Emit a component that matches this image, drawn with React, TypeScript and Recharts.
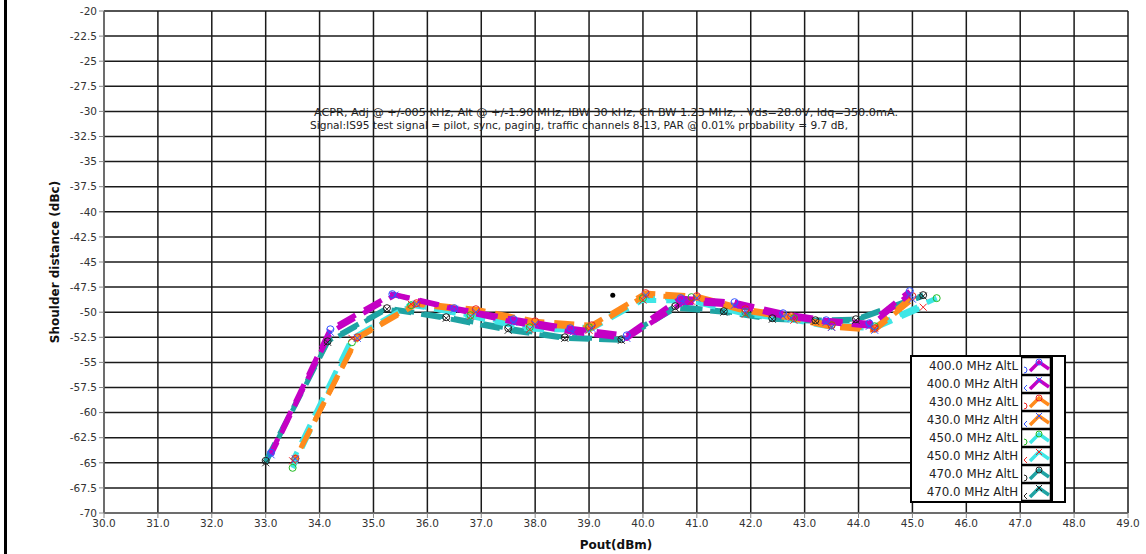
import React from 'react';
import { LineChart, Line, XAxis, YAxis, CartesianGrid, Scatter } from 'recharts';

// Pout (dBm) per series and shoulder distance (dBc)
const x400L = [33.1, 34.2, 35.35, 36.5, 37.6, 38.65, 39.7, 40.7, 41.7, 42.6, 43.4, 44.2, 44.95];
const y400L = [-64.0, -51.7, -48.2, -49.6, -50.7, -51.6, -52.3, -48.6, -49.0, -50.1, -50.8, -51.1, -47.9];
const x400H = [33.1, 34.2, 35.4, 36.5, 37.6, 38.7, 39.7, 40.75, 41.7, 42.6, 43.4, 44.2, 44.95];
const y400H = [-64.2, -52.0, -48.3, -49.7, -51.0, -52.0, -52.6, -49.0, -49.3, -50.4, -51.0, -51.4, -48.2];

const x430L = [33.55, 34.7, 35.8, 36.9, 38.0, 39.05, 40.05, 41.0, 41.9, 42.75, 43.5, 44.3, 45.0];
const y430L = [-64.6, -52.5, -49.1, -49.7, -50.9, -51.3, -48.1, -48.4, -49.7, -50.4, -51.3, -51.6, -48.4];
const x430H = [33.55, 34.7, 35.8, 36.9, 38.0, 39.05, 40.05, 41.0, 41.9, 42.75, 43.5, 44.3, 45.0];
const y430H = [-64.6, -52.6, -49.2, -50.0, -51.2, -51.6, -48.3, -48.6, -49.9, -50.6, -51.5, -51.8, -48.7];

const x450L = [33.5, 34.6, 35.7, 36.8, 37.9, 39.0, 40.0, 40.9, 41.9, 42.8, 43.5, 44.3, 45.45];
const y450L = [-65.5, -53.0, -49.3, -50.3, -51.5, -51.5, -48.6, -48.5, -50.0, -50.6, -51.3, -51.4, -48.6];
const x450H = [33.5, 34.6, 35.7, 36.8, 37.9, 39.0, 40.0, 40.9, 41.9, 42.8, 43.5, 44.3, 45.2];
const y450H = [-64.8, -52.6, -49.2, -50.4, -51.7, -51.8, -48.8, -48.9, -50.2, -50.8, -51.5, -51.6, -49.5];

const x470L = [33.0, 34.15, 35.25, 36.35, 37.5, 38.55, 39.6, 40.6, 41.5, 42.4, 43.2, 43.95, 45.2];
const y470L = [-64.8, -52.9, -49.6, -50.5, -51.6, -52.5, -52.7, -49.4, -49.9, -50.6, -50.8, -50.7, -48.3];
const x470H = [33.0, 34.15, 35.25, 36.35, 37.5, 38.55, 39.6, 40.6, 41.5, 42.4, 43.2, 43.95, 45.2];
const y470H = [-65.0, -53.0, -49.7, -50.6, -51.8, -52.6, -52.8, -49.6, -50.0, -50.7, -50.9, -50.8, -48.4];

const strayPoint = [{ x: 39.44, y: -48.3 }];

const xTicks = [30, 31, 32, 33, 34, 35, 36, 37, 38, 39, 40, 41, 42, 43, 44, 45, 46, 47, 48, 49];
const yTicks = [-70, -67.5, -65, -62.5, -60, -57.5, -55, -52.5, -50, -47.5, -45, -42.5, -40, -37.5, -35, -32.5, -30, -27.5, -25, -22.5, -20];

const zip = (xs: number[], ys: number[]) => xs.map((x, i) => ({ x, y: ys[i] }));

const MAGENTA = '#c400c4';
const ORANGE = '#ff8a1c';
const CYAN = '#3fe6e6';
const TEAL = '#1fa3a3';

const series = [
  { name: '470.0 MHz AltL', data: zip(x470L, y470L), color: TEAL, marker: '#222', shape: 'o', off: 0 },
  { name: '470.0 MHz AltH', data: zip(x470H, y470H), color: TEAL, marker: '#222', shape: 'x', off: 2 },
  { name: '450.0 MHz AltL', data: zip(x450L, y450L), color: CYAN, marker: '#22bb22', shape: 'o', off: 8 },
  { name: '450.0 MHz AltH', data: zip(x450H, y450H), color: CYAN, marker: '#ee2222', shape: 'x', off: 10 },
  { name: '430.0 MHz AltL', data: zip(x430L, y430L), color: ORANGE, marker: '#ee2222', shape: 'o', off: 16 },
  { name: '430.0 MHz AltH', data: zip(x430H, y430H), color: ORANGE, marker: '#3355ff', shape: 'x', off: 18 },
  { name: '400.0 MHz AltL', data: zip(x400L, y400L), color: MAGENTA, marker: '#3355ff', shape: 'o', off: 4 },
  { name: '400.0 MHz AltH', data: zip(x400H, y400H), color: MAGENTA, marker: '#3355ff', shape: 'x', off: 6 },
];

const legendOrder = [6, 7, 4, 5, 2, 3, 0, 1];

const makeDot = (color: string, shape: string) => (props: any) => {
  const { cx, cy, index } = props;
  if (cx == null || cy == null) return <g key={`e-${index}`} />;
  if (shape === 'o') {
    return <circle key={`d-${index}`} cx={cx} cy={cy} r={3.5} fill="none" stroke={color} strokeWidth={1} />;
  }
  return (
    <g key={`d-${index}`} stroke={color} strokeWidth={1}>
      <line x1={cx - 3.5} y1={cy - 3.5} x2={cx + 3.5} y2={cy + 3.5} />
      <line x1={cx - 3.5} y1={cy + 3.5} x2={cx + 3.5} y2={cy - 3.5} />
    </g>
  );
};

const FONT = '"DejaVu Sans", Verdana, sans-serif';

const App: React.FC = () => {
  return (
    <div style={{ position: 'absolute', left: 0, top: 0, width: 1146, height: 554, background: '#fff', fontFamily: FONT }}>
      <div style={{ position: 'absolute', left: 4, top: 0, width: 3, height: 554, background: '#000' }} />
      <LineChart width={1146} height={554} margin={{ top: 11, right: 18, bottom: 0, left: 0 }}>
        <CartesianGrid stroke="#1a1a1a" strokeWidth={1.5} horizontalValues={yTicks} verticalValues={xTicks} />
        <XAxis
          type="number"
          dataKey="x"
          domain={[30, 49]}
          ticks={xTicks}
          allowDataOverflow
          height={41}
          stroke="#888"
          tickSize={5}
          tickFormatter={(v: number) => v.toFixed(1)}
          tick={{ fill: '#333', fontSize: 10.5, fontFamily: FONT }}
          label={{ value: 'Pout(dBm)', position: 'insideBottom', offset: 5, fill: '#111', fontSize: 12, fontWeight: 'bold', fontFamily: FONT }}
        />
        <YAxis
          type="number"
          dataKey="y"
          domain={[-70, -20]}
          ticks={yTicks}
          allowDataOverflow
          width={104}
          stroke="#888"
          tickSize={5}
          tickMargin={2}
          tick={{ fill: '#333', fontSize: 10.5, fontFamily: FONT }}
          label={{ value: 'Shoulder distance (dBc)', angle: -90, position: 'insideLeft', offset: 55, fill: '#111', fontSize: 12, fontWeight: 'bold', fontFamily: FONT, style: { textAnchor: 'middle' } }}
        />
        {series.map((s) => (
          <Line
            key={s.name}
            data={s.data}
            dataKey="y"
            type="linear"
            stroke={s.color}
            strokeWidth={5}
            strokeDasharray="20 10"
            strokeDashoffset={s.off}
            dot={makeDot(s.marker, s.shape)}
            activeDot={false}
            isAnimationActive={false}
          />
        ))}
        <Scatter data={strayPoint} dataKey="y" fill="#000" shape={(p: any) => <circle cx={p.cx} cy={p.cy} r={2.5} fill="#000" />} isAnimationActive={false} />
      </LineChart>
      <svg width={1146} height={554} style={{ position: 'absolute', left: 0, top: 0, pointerEvents: 'none' }}>
        <text x={314} y={116} fontSize={10} fontFamily={FONT} fill="#222" textLength={584} lengthAdjust="spacingAndGlyphs">
          ACPR,  Adj @ +/-005 kHz,  Alt @ +/-1.90 MHz, IBW 30 kHz, Ch BW 1.23 MHz, . Vds=28.0V, Idq=350.0mA.
        </text>
        <text x={310} y={129} fontSize={10} fontFamily={FONT} fill="#222" textLength={538} lengthAdjust="spacingAndGlyphs">
          Signal:IS95 test signal = pilot, sync, paging, traffic channels 8-13, PAR @ 0.01% probability = 9.7 dB,
        </text>
      </svg>
      <div
        style={{
          position: 'absolute',
          left: 910,
          top: 355,
          width: 152,
          height: 144,
          border: '2px solid #000',
          background: '#fff',
          boxSizing: 'content-box',
        }}
      >
        {legendOrder.map((idx, row) => {
          const s = series[idx];
          return (
            <div key={s.name} style={{ position: 'absolute', left: 0, top: row * 18, width: 152, height: 18 }}>
              <div style={{ position: 'absolute', left: 0, width: 106, textAlign: 'right', fontSize: 11.8, lineHeight: '18px', color: '#222', whiteSpace: 'nowrap' }}>
                {s.name}
              </div>
              <svg width={30} height={18} style={{ position: 'absolute', left: 109, top: 0 }}>
                <rect x={0.5} y={0.5} width={29} height={17} fill="#fff" stroke="#000" strokeWidth={1.5} />
                <polyline points="9,14 18,5 28,12" fill="none" stroke={s.color} strokeWidth={3.5} />
                {s.shape === 'o' ? (
                  <circle cx={18} cy={5} r={3} fill="none" stroke={s.marker} strokeWidth={1} />
                ) : (
                  <g stroke={s.marker} strokeWidth={1}>
                    <line x1={15} y1={2} x2={21} y2={8} />
                    <line x1={15} y1={8} x2={21} y2={2} />
                  </g>
                )}
                {s.shape === 'o' ? (
                  <path d="M3,10 A3,3 0 0 1 3,16" fill="none" stroke={s.marker} strokeWidth={1} />
                ) : (
                  <polyline points="6,10 3,13 6,16" fill="none" stroke={s.marker} strokeWidth={1} />
                )}
              </svg>
              <div style={{ position: 'absolute', left: 139, top: 0, width: 1.5, height: 18, background: '#000' }} />
            </div>
          );
        })}
      </div>
    </div>
  );
};

export default App;
